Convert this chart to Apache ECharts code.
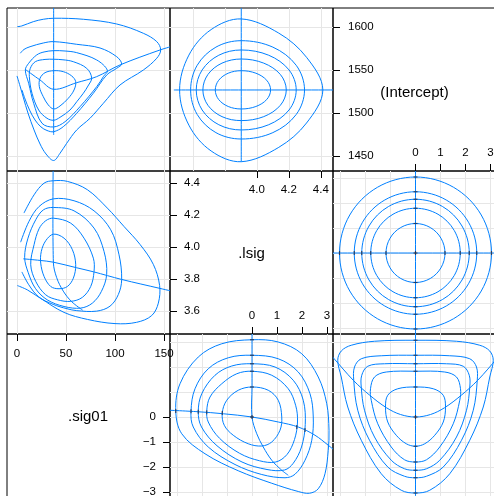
<!DOCTYPE html>
<html><head><meta charset="utf-8">
<script src="https://cdn.jsdelivr.net/npm/echarts@6/dist/echarts.min.js"></script>
<style>html,body{margin:0;padding:0;background:#fff}#c{width:494px;height:496px}</style>
</head><body><div id="c"></div><script>
// ---------- names, ticks, ranges ----------
const varNames = ['.sig01', '.lsig', '(Intercept)'];
const sig01Ticks = [0, 50, 100, 150];
const lsigTicksLeft = [3.6, 3.8, 4.0, 4.2, 4.4];
const lsigTicksTop = [4.0, 4.2, 4.4];
const interceptTicks = [1450, 1500, 1550, 1600];
const zetaTicksPos = [0, 1, 2, 3];
const zetaTicksNeg = [0, -1, -2, -3];
const sig01Range = [-10.2, 156.1];
const lsigRange = [3.457, 4.476];
const interceptRange = [1432.9, 1622.4];
const zetaCol1 = [-3.28, 3.24], zetaCol2 = [-3.30, 3.22];
const zetaRow1 = [-3.24, 3.28], zetaRow2 = [-3.20, 3.32];

// ---------- panel A: .sig01 (x) vs (Intercept) (y) ----------
const aL1 = [[37.4,1549.5],[47.2,1548.4],[55.8,1543.4],[59.9,1536.7],[58.2,1527.1],[52.3,1517.4],[43.9,1508.5],[37.4,1505],[31.9,1509.7],[26.8,1519.3],[22.8,1530.9],[23.5,1540.7],[28.6,1547.2]];
const aL2 = [[37.4,1562.8],[46.9,1562.2],[57.4,1560],[71.1,1552.3],[76.2,1541],[72.4,1531.7],[67.7,1523.3],[61,1513.5],[54.1,1503.8],[43.9,1495.3],[37.4,1491.9],[30.6,1494.2],[22.1,1503.8],[15.3,1523.3],[12.6,1542.6],[13.6,1552.3],[18.7,1560],[28.6,1562.6]];
const aL3 = [[8.5,1550.3],[11.9,1558.1],[20.1,1567.8],[27.6,1571.3],[37.4,1572.8],[49,1572.4],[60.9,1570.5],[81.3,1562],[92.2,1550],[88.1,1542.6],[81.3,1530.9],[64.3,1507.7],[49,1490.2],[37.4,1484.1],[25.5,1488.4],[17,1511.6],[11.9,1534.9]];
const aL4 = [[3.4,1569.8],[7.1,1574.2],[13.3,1577.4],[26.8,1581.7],[37.4,1583.3],[60.9,1580.2],[84.7,1575.9],[101.7,1565.8],[106.8,1557.3],[101.7,1552.3],[91.5,1544.5],[77.9,1523.3],[60.9,1500],[47.2,1484.4],[37.4,1478.6],[30.6,1480],[24.5,1484.1],[18.4,1492.2],[12.8,1503.8],[8.2,1516.6],[5.1,1527.1]];
const aL5 = [[0.3,1600.7],[4.8,1601.5],[16.6,1606.5],[26.8,1609.3],[37.8,1610.5],[67.7,1609.3],[101.7,1603.8],[128.9,1593],[142.6,1583.3],[146.6,1573.6],[142.6,1564],[128.9,1550.3],[105.1,1532.9],[88.1,1511.6],[74.5,1494.2],[60.9,1480.6],[50.7,1465.1],[43.9,1453.5],[37.4,1445.1],[29.6,1452.7],[23.5,1464.3],[17.4,1480.6],[11.2,1500.3],[6.6,1517.8],[3.1,1531.7],[0,1543.4]];
const aTrace1 = [[37.4,1630],[37.4,1474.8]];
const aTrace2 = [[8.2,1551.2],[23.5,1538.7],[37.4,1527.9],[60.9,1535.6],[81.3,1542.6],[105.1,1556.2],[145.9,1573.6],[160,1578.4]];

// ---------- panel B: .lsig (x) vs (Intercept) (y) ----------
const bL1 = [[4.086,1527.1],[4.062,1538.3],[3.994,1546.6],[3.9025,1549.5],[3.821,1546.6],[3.761,1538.3],[3.74,1527.1],[3.761,1516.05],[3.821,1507.9],[3.9025,1505.0],[3.994,1507.9],[4.062,1516.05]];
const bL2 = [[4.184,1527.1],[4.147,1545.1],[4.043,1558.3],[3.9025,1563.1],[3.782,1558.3],[3.694,1545.1],[3.6625,1527.1],[3.694,1509.3],[3.782,1496.1],[3.9025,1491.5],[4.043,1496.1],[4.147,1509.3]];
const bL3 = [[4.246,1527.1],[4.201,1550.4],[4.074,1567.5],[3.9025,1573.6],[3.762,1567.5],[3.658,1550.4],[3.621,1527.1],[3.658,1503.8],[3.762,1486.7],[3.9025,1480.6],[4.074,1486.7],[4.201,1503.8]];
const bL4 = [[4.298,1527.1],[4.246,1555.8],[4.100,1576.9],[3.9025,1584.4],[3.744,1576.9],[3.627,1555.8],[3.586,1527.1],[3.627,1498.6],[3.744,1477.5],[3.9025,1470.1],[4.100,1477.5],[4.246,1498.6]];
const bL5 = [[4.4125,1527.1],[4.3105,1565.1],[4.137,1593.2],[3.9025,1609.7],[3.714,1597.3],[3.575,1567.6],[3.517,1527.1],[3.575,1486.2],[3.714,1456.2],[3.9025,1443.7],[4.137,1460.4],[4.3105,1488.7]];
const bTrace1 = [[3.481,1527.1],[4.6,1527.1]];
const bTrace2 = [[3.9025,1630],[3.9025,1443.7]];

// ---------- panel C: .sig01 (x) vs .lsig (y) ----------
const cL1 = [[37.1,4.081],[48,4.056],[56.5,3.984],[59.9,3.890],[57.5,3.806],[51.4,3.754],[42.9,3.740],[34.4,3.754],[27.6,3.817],[24.2,3.900],[24.8,3.973],[29.3,4.040]];
const cL2 = [[37.1,4.181],[54.8,4.150],[68.4,4.056],[77.9,3.931],[78.6,3.848],[75.2,3.754],[66.7,3.686],[54.8,3.661],[41.2,3.671],[29.3,3.702],[19.1,3.786],[14,3.890],[17.4,4.015],[22.5,4.115],[29.3,4.165]];
const cL3 = [[37.1,4.248],[58.2,4.227],[78.6,4.119],[88.8,3.973],[91.5,3.83],[86.1,3.723],[76.9,3.650],[65,3.619],[48,3.629],[31,3.67],[19,3.74],[11.5,3.84],[7.8,3.936],[11.2,4.056],[19.1,4.171],[26.9,4.233]];
const cL4 = [[3.7,4.031],[12.2,4.161],[22.5,4.254],[37.1,4.302],[58.2,4.290],[78.6,4.227],[95.6,4.109],[104.1,3.952],[106.8,3.798],[103.4,3.704],[94.9,3.631],[81.3,3.600],[61,3.603],[51,3.615],[37,3.642],[22,3.69],[12,3.765],[5,3.845]];
const cL5 = [[7.1,4.213],[17.4,4.327],[27.6,4.400],[37.1,4.415],[51.4,4.411],[71.8,4.359],[92.2,4.244],[109.2,4.129],[125.5,4.017],[139.1,3.892],[145.5,3.76],[144.2,3.65],[137.4,3.572],[122,3.530],[100,3.522],[72,3.548],[48,3.592],[24,3.680],[10.5,3.733],[0.3,3.76]];
const cTrace1 = [[37.1,4.6],[37.1,3.906],[40.5,3.809],[47.2,3.725],[55.8,3.659],[67,3.606]];
const cTrace2 = [[6.4,3.927],[23.5,3.917],[37.1,3.906],[60.9,3.871],[77.9,3.846],[106.8,3.798],[145.9,3.742],[165,3.715]];

// ---------- panel D: zeta (Intercept) (x) vs zeta .lsig (y) ----------
const dL1 = [[1.18,0],[1.02,0.59],[0.59,1.02],[0,1.18],[-0.59,1.02],[-1.02,0.59],[-1.18,0],[-1.02,-0.59],[-0.59,-1.02],[0,-1.18],[0.59,-1.02],[1.02,-0.59]];
const dL2 = [[1.79,0],[1.55,0.9],[0.9,1.55],[0,1.79],[-0.9,1.55],[-1.55,0.9],[-1.79,0],[-1.55,-0.9],[-0.9,-1.55],[0,-1.79],[0.9,-1.55],[1.55,-0.9]];
const dL3 = [[2.15,0],[1.86,1.08],[1.08,1.86],[0,2.15],[-1.08,1.86],[-1.86,1.08],[-2.15,0],[-1.86,-1.08],[-1.08,-1.86],[0,-2.15],[1.08,-1.86],[1.86,-1.08]];
const dL4 = [[2.45,0],[2.12,1.23],[1.23,2.12],[0,2.45],[-1.23,2.12],[-2.12,1.23],[-2.45,0],[-2.12,-1.23],[-1.23,-2.12],[0,-2.45],[1.23,-2.12],[2.12,-1.23]];
const dL5 = [[3.04,0],[2.63,1.52],[1.52,2.63],[0,3.04],[-1.52,2.63],[-2.63,1.52],[-3.04,0],[-2.63,-1.52],[-1.52,-2.63],[0,-3.04],[1.52,-2.63],[2.63,-1.52]];
const dTrace1 = [[-3.6,0],[3.6,0]];
const dTrace2 = [[0,-3.6],[0,3.6]];
const dMarksOnVertical = [[0,3.04],[0,2.45],[0,2.15],[0,1.79],[0,1.18],[0,0],[0,-1.18],[0,-1.79],[0,-2.15],[0,-2.45],[0,-3.04]];
const dMarksOnHorizontal = [[3.04,0],[2.45,0],[2.15,0],[1.79,0],[1.18,0],[0,0],[-1.18,0],[-1.79,0],[-2.15,0],[-2.45,0],[-3.04,0]];

// ---------- panel E: zeta .lsig (x) vs zeta .sig01 (y) ----------
const eL1 = [[0,1.2],[0.65,1.07],[1.05,0.67],[1.19,0],[1.12,-0.53],[0.79,-1.0],[0.39,-1.16],[-0.15,-1.07],[-0.75,-0.73],[-1.11,-0.33],[-1.19,0.16],[-1.01,0.67],[-0.55,1.07]];
const eL2 = [[0,1.83],[0.79,1.67],[1.45,1.13],[1.75,0.45],[1.82,-0.2],[1.70,-0.9],[1.40,-1.5],[0.95,-1.8],[0.3,-1.75],[-0.5,-1.45],[-1.3,-0.85],[-1.75,-0.2],[-1.81,0.25],[-1.68,0.8],[-1.21,1.33],[-0.61,1.73]];
const eL3 = [[0,2.13],[0.92,2.0],[1.65,1.47],[2.05,0.67],[2.13,-0.3],[1.98,-1.2],[1.65,-1.85],[1.3,-2.12],[0.6,-2.1],[-0.4,-1.8],[-1.4,-1.15],[-2.02,-0.4],[-2.15,0.21],[-2.01,0.93],[-1.48,1.67],[-0.81,2.04]];
const eL4 = [[0,2.47],[1.05,2.33],[1.85,1.8],[2.32,0.93],[2.45,0],[2.39,-0.93],[2.12,-1.73],[1.72,-2.29],[1.32,-2.43],[0.39,-2.3],[-0.68,-1.9],[-1.75,-1.2],[-2.35,-0.4],[-2.44,0.23],[-2.28,1.13],[-1.75,1.93],[-0.95,2.37]];
const eL5 = [[0,3.09],[1.05,3.0],[1.99,2.53],[2.65,1.6],[2.99,0.53],[3.08,-0.53],[3.05,-1.33],[2.92,-2.27],[2.65,-2.87],[2.3,-3.05],[1.85,-2.98],[0.79,-2.65],[-0.55,-2.15],[-1.88,-1.47],[-2.81,-0.67],[-3.05,0.24],[-2.88,1.33],[-2.15,2.4],[-1.21,2.93]];
const eTrace1 = [[-3.5,0.28],[-2.15,0.21],[-1.15,0.13],[0,0],[1.05,-0.2],[1.85,-0.4],[2.52,-0.73],[3.05,-1.13],[3.5,-1.5]];
const eTrace2 = [[0,3.6],[0,1.2],[0,0],[0.19,-0.67],[0.45,-1.2],[0.79,-1.73],[1.19,-2.13],[1.45,-2.33]];
const eMarksOnVertical = [[0,3.09],[0,2.47],[0,2.13],[0,1.83],[0,1.2],[0,0]];
const eMarksOnHorizontal = [[-3.05,0.24],[-2.44,0.23],[-2.15,0.21],[-1.81,0.19],[-1.19,0.16],[0,0],[1.79,-0.4],[2.12,-0.52]];

// ---------- panel F: zeta (Intercept) (x) vs zeta .sig01 (y) ----------
const fL1 = [[0,1.2],[0.71,1.13],[1.11,0.87],[1.2,0.4],[1.11,-0.2],[0.77,-0.73],[0.37,-1.07],[0,-1.17],[-0.37,-1.07],[-0.77,-0.73],[-1.11,-0.2],[-1.2,0.4],[-1.11,0.87],[-0.71,1.13]];
const fL2 = [[0,1.83],[1.17,1.8],[1.64,1.6],[1.8,1.13],[1.77,0.67],[1.51,-0.27],[0.97,-1.2],[0.44,-1.71],[0,-1.8],[-0.44,-1.71],[-0.97,-1.2],[-1.51,-0.27],[-1.77,0.67],[-1.8,1.13],[-1.64,1.6],[-1.17,1.8]];
const fL3 = [[0,2.13],[1.24,2.13],[1.91,2.03],[2.15,1.67],[2.17,1.2],[2.04,0.27],[1.64,-0.8],[0.97,-1.73],[0.44,-2.07],[0,-2.13],[-0.44,-2.07],[-0.97,-1.73],[-1.64,-0.8],[-2.04,0.27],[-2.17,1.2],[-2.15,1.67],[-1.91,2.03],[-1.24,2.13]];
const fL4 = [[0,2.47],[1.37,2.45],[2.17,2.33],[2.44,2.0],[2.47,1.47],[2.31,0.27],[1.84,-0.93],[1.11,-2.0],[0.44,-2.37],[0,-2.43],[-0.44,-2.37],[-1.11,-2.0],[-1.84,-0.93],[-2.31,0.27],[-2.47,1.47],[-2.44,2.0],[-2.17,2.33],[-1.37,2.45]];
const fL5 = [[0,3.07],[1.64,3.03],[2.57,2.87],[2.97,2.64],[3.11,2.27],[2.97,1.6],[2.71,0.4],[2.17,-0.93],[1.37,-2.27],[0.57,-2.93],[0,-3.04],[-0.57,-2.93],[-1.37,-2.27],[-2.17,-0.93],[-2.71,0.4],[-2.97,1.6],[-3.11,2.27],[-2.97,2.64],[-2.57,2.87],[-1.64,3.03]];
const fTrace1 = [[0,-3.6],[0,3.6]];
const fTrace2 = [[-3.6,2.7],[-3.29,2.37],[-2.49,1.47],[-1.83,0.87],[-1.16,0.37],[-0.6,0.1],[0,0],[0.6,0.1],[1.16,0.37],[1.83,0.87],[2.49,1.47],[3.29,2.37],[3.6,2.7]];
const fMarksOnVertical = [[0,3.07],[0,2.47],[0,2.13],[0,1.83],[0,1.2],[0,0],[0,-1.17],[0,-1.8],[0,-2.13],[0,-2.43],[0,-3.04]];
const fMarksOnCurve = [[0,0]];

// ---------- styling / layout ----------
const FONT = '"Liberation Sans", Arial, Helvetica, sans-serif';
const LINE = '#0080ff';
const MARK = '#2b2b3a';
const GRIDLINE = '#e6e6e6';
const cellLeft = [7, 170, 333], cellTop = [8, 171, 334], cellSize = 163;
const labelPos = [[88, 417], [251.5, 254], [414.5, 92.5]];

const grid = [];
for (let r = 0; r < 3; r++) for (let c = 0; c < 3; c++) {
  grid.push({left: cellLeft[c], top: cellTop[r], width: cellSize, height: cellSize,
    show: true, borderColor: '#000', borderWidth: 1, backgroundColor: 'rgba(0,0,0,0)',
    containLabel: false, outerBoundsMode: 'none'});
}
const xAxis = [], yAxis = [];
function addAxis(list, gridIndex, range, extra) {
  list.push(Object.assign({type: 'value', gridIndex: gridIndex, min: range[0], max: range[1],
    axisLine: {show: false, onZero: false}, axisTick: {show: false}, axisLabel: {show: false},
    splitLine: {show: false}}, extra || {}));
  return list.length - 1;
}
function gridLines(n) {
  return {splitNumber: n, splitLine: {show: true, showMinLine: false, showMaxLine: false,
    lineStyle: {color: GRIDLINE, width: 1}}};
}
function diagTicks(position, ticks, margin, fmt) {
  return {position: position,
    axisLine: {show: false, onZero: false},
    axisTick: {show: true, inside: true, length: 7, customValues: ticks, lineStyle: {color: '#000', width: 1}},
    axisLabel: {show: true, inside: true, margin: margin, customValues: ticks, color: '#000',
      fontSize: 11.5, fontFamily: FONT, formatter: fmt}};
}
const fmtPlain = v => String(v);
const fmt1 = v => Number(v).toFixed(1);
const fmtZeta = v => String(v).replace('-', '\u2212');

// axes per cell (grid index = row*3 + col)
const ax = {};
ax.Ax = addAxis(xAxis, 0, sig01Range, gridLines(4));
ax.Ay = addAxis(yAxis, 0, interceptRange, gridLines(4));
ax.Bx = addAxis(xAxis, 1, lsigRange, gridLines(5));
ax.By = addAxis(yAxis, 1, interceptRange, gridLines(4));
addAxis(xAxis, 2, zetaCol2, diagTicks('bottom', zetaTicksPos, 12, fmtZeta));
addAxis(yAxis, 2, interceptRange, diagTicks('left', interceptTicks, 15, fmtPlain));
ax.Cx = addAxis(xAxis, 3, sig01Range, gridLines(4));
ax.Cy = addAxis(yAxis, 3, lsigRange, gridLines(5));
addAxis(xAxis, 4, lsigRange, diagTicks('top', lsigTicksTop, 13, fmt1));
addAxis(xAxis, 4, zetaCol1, diagTicks('bottom', zetaTicksPos, 12, fmtZeta));
addAxis(yAxis, 4, lsigRange, diagTicks('left', lsigTicksLeft, 14, fmt1));
ax.Dx = addAxis(xAxis, 5, zetaCol2, gridLines(6));
ax.Dy = addAxis(yAxis, 5, zetaRow1, gridLines(6));
addAxis(xAxis, 6, sig01Range, diagTicks('top', sig01Ticks, 14, fmtPlain));
addAxis(yAxis, 6, zetaRow2, diagTicks('right', zetaTicksNeg, 14, fmtZeta));
ax.Ex = addAxis(xAxis, 7, zetaCol1, gridLines(6));
ax.Ey = addAxis(yAxis, 7, zetaRow2, gridLines(6));
ax.Fx = addAxis(xAxis, 8, zetaCol2, gridLines(6));
ax.Fy = addAxis(yAxis, 8, zetaRow2, gridLines(6));

function curveSeries(xi, yi, curves, closed) {
  return {type: 'custom', xAxisIndex: xi, yAxisIndex: yi, silent: true, z: 3,
    data: curves.map((c, i) => [i, 0]), encode: {x: 0, y: 1},
    renderItem: function (params, api) {
      const i = api.value(0);
      const pts = curves[i].map(p => api.coord(p));
      const cs = params.coordSys;
      return {type: closed[i] ? 'polygon' : 'polyline',
        shape: {points: pts, smooth: 0.35},
        style: {fill: 'none', stroke: LINE, lineWidth: 1},
        clipPath: {type: 'rect', shape: {x: cs.x, y: cs.y, width: cs.width, height: cs.height}}};
    }};
}
// short dark dashes where the contours cross the profile traces
function markSeries(xi, yi, points, horizontalDash) {
  return {type: 'scatter', xAxisIndex: xi, yAxisIndex: yi, data: points, symbol: 'rect',
    symbolSize: horizontalDash ? [4, 1.2] : [1.2, 4], itemStyle: {color: MARK}, silent: true, z: 4};
}
const C5 = [true, true, true, true, true, false, false];
const open45 = [true, true, true, false, false, false, false];
const series = [
  curveSeries(ax.Ax, ax.Ay, [aL1, aL2, aL3, aL4, aL5, aTrace1, aTrace2], open45),
  curveSeries(ax.Bx, ax.By, [bL1, bL2, bL3, bL4, bL5, bTrace1, bTrace2], C5),
  curveSeries(ax.Cx, ax.Cy, [cL1, cL2, cL3, cL4, cL5, cTrace1, cTrace2], open45),
  curveSeries(ax.Dx, ax.Dy, [dL1, dL2, dL3, dL4, dL5, dTrace1, dTrace2], C5),
  curveSeries(ax.Ex, ax.Ey, [eL1, eL2, eL3, eL4, eL5, eTrace1, eTrace2], C5),
  curveSeries(ax.Fx, ax.Fy, [fL1, fL2, fL3, fL4, fL5, fTrace1, fTrace2], C5),
  markSeries(ax.Dx, ax.Dy, dMarksOnVertical, true), markSeries(ax.Dx, ax.Dy, dMarksOnHorizontal, false),
  markSeries(ax.Ex, ax.Ey, eMarksOnVertical, true), markSeries(ax.Ex, ax.Ey, eMarksOnHorizontal, false),
  markSeries(ax.Fx, ax.Fy, fMarksOnVertical, true), markSeries(ax.Fx, ax.Fy, fMarksOnCurve, false)
];

const chart = echarts.init(document.getElementById('c'), null, {renderer: 'canvas'});
chart.setOption({
  animation: false,
  backgroundColor: '#fff',
  grid: grid, xAxis: xAxis, yAxis: yAxis, series: series,
  graphic: varNames.map((name, k) => ({type: 'text', x: labelPos[k][0], y: labelPos[k][1], z: 10,
    style: {text: name, fontSize: 15, fontFamily: FONT, fill: '#000', align: 'center', verticalAlign: 'middle'}}))
});
</script></body></html>
